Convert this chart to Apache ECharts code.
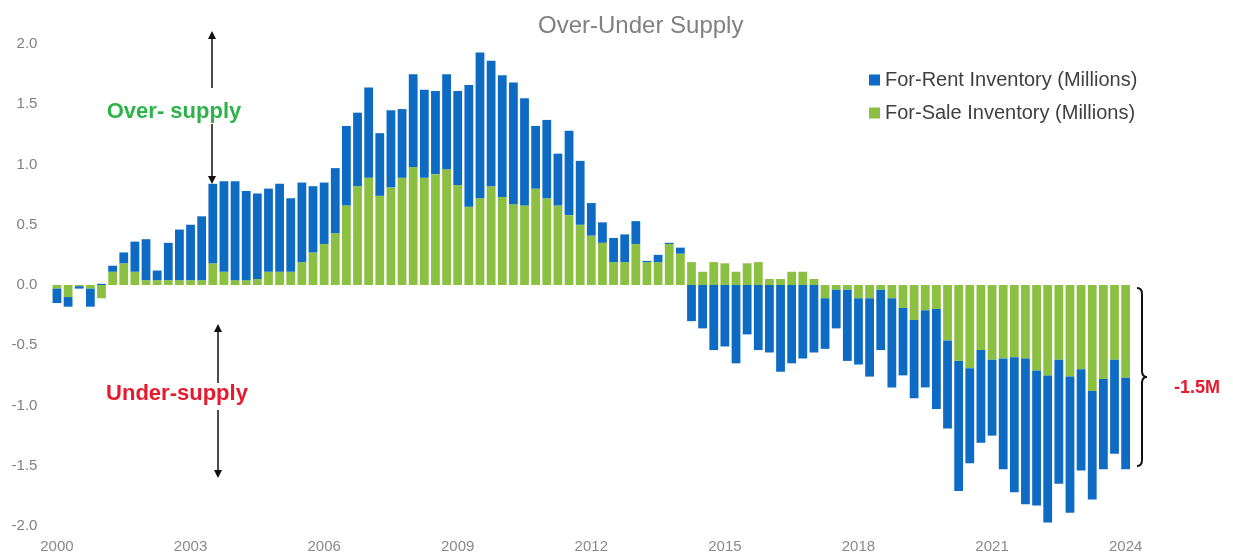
<!DOCTYPE html>
<html>
<head>
<meta charset="utf-8">
<title>Over-Under Supply</title>
<script src="https://cdn.jsdelivr.net/npm/echarts@6/dist/echarts.min.js"></script>
<style>
  html, body { margin: 0; padding: 0; background: #fff; }
  #chart { width: 1233px; height: 556px; }
</style>
</head>
<body>
<div id="chart"></div>
<script>
// quarterly categories 2000Q1 .. 2024Q1
const quarters = [];
for (let y = 2000; y <= 2024; y++) {
  for (let q = 1; q <= 4; q++) {
    if (y === 2024 && q > 1) break;
    quarters.push(y + " Q" + q);
  }
}

// For-Sale inventory (millions)
const forSale = [
  -0.03, -0.10, -0.01, -0.03, -0.11, 0.11, 0.18, 0.11, 0.04, 0.04, 0.04, 0.04,
  0.04, 0.04, 0.18, 0.11, 0.04, 0.04, 0.05, 0.11, 0.11, 0.11, 0.19, 0.27,
  0.34, 0.43, 0.66, 0.82, 0.89, 0.74, 0.81, 0.89, 0.98, 0.89, 0.92, 0.96,
  0.83, 0.65, 0.72, 0.82, 0.73, 0.67, 0.66, 0.80, 0.72, 0.66, 0.58, 0.50,
  0.41, 0.35, 0.19, 0.19, 0.34, 0.19, 0.19, 0.34, 0.26, 0.19, 0.11, 0.19,
  0.18, 0.11, 0.18, 0.19, 0.05, 0.05, 0.11, 0.11, 0.05, -0.11, -0.04, -0.04,
  -0.11, -0.11, -0.04, -0.11, -0.19, -0.29, -0.21, -0.20, -0.46, -0.63, -0.69, -0.54,
  -0.62, -0.61, -0.60, -0.61, -0.71, -0.75, -0.62, -0.76, -0.70, -0.88, -0.78, -0.62,
  -0.77
];

// For-Rent inventory (millions)
const forRent = [
  -0.12, -0.08, -0.02, -0.15, 0.01, 0.05, 0.09, 0.25, 0.34, 0.08, 0.31, 0.42,
  0.46, 0.53, 0.66, 0.75, 0.82, 0.74, 0.71, 0.69, 0.73, 0.61, 0.66, 0.55,
  0.51, 0.54, 0.66, 0.61, 0.75, 0.52, 0.64, 0.57, 0.77, 0.73, 0.69, 0.79,
  0.78, 1.01, 1.21, 1.04, 1.01, 1.01, 0.89, 0.52, 0.65, 0.43, 0.70, 0.53,
  0.27, 0.17, 0.20, 0.23, 0.19, 0.01, 0.06, 0.01, 0.05, -0.30, -0.36, -0.54,
  -0.51, -0.65, -0.41, -0.54, -0.56, -0.72, -0.65, -0.61, -0.56, -0.42, -0.32, -0.59,
  -0.55, -0.65, -0.50, -0.74, -0.56, -0.65, -0.64, -0.83, -0.73, -1.08, -0.79, -0.77,
  -0.63, -0.92, -1.12, -1.21, -1.12, -1.22, -1.03, -1.13, -0.84, -0.90, -0.75, -0.78,
  -0.76
];

const font = "Liberation Sans, Arial, sans-serif";
const blue = "#0E6BC4";
const green = "#8CC042";

let chart = echarts.init(document.getElementById("chart"));

// arrow helper for the annotations
function arrow(x, y1, y2) {
  const dir = y2 > y1 ? 1 : -1;
  return [
    { type: "line", shape: { x1: x, y1: y1, x2: x, y2: y2 - dir * 6 },
      style: { stroke: "#111", lineWidth: 1.5 } },
    { type: "polygon", shape: { points: [[x - 4, y2 - dir * 8], [x + 4, y2 - dir * 8], [x, y2]] },
      style: { fill: "#111" } }
  ];
}

// curly brace on the right (-1.5M)
const braceStyle = { stroke: "#111", lineWidth: 2, fill: null };
const brace = [
  { type: "bezierCurve", shape: { x1: 1137, y1: 288, x2: 1142, y2: 294, cpx1: 1142, cpy1: 288 }, style: braceStyle },
  { type: "line", shape: { x1: 1142, y1: 294, x2: 1142, y2: 371 }, style: braceStyle },
  { type: "bezierCurve", shape: { x1: 1142, y1: 371, x2: 1147, y2: 377, cpx1: 1142, cpy1: 377 }, style: braceStyle },
  { type: "bezierCurve", shape: { x1: 1147, y1: 377, x2: 1142, y2: 383, cpx1: 1142, cpy1: 377 }, style: braceStyle },
  { type: "line", shape: { x1: 1142, y1: 383, x2: 1142, y2: 460 }, style: braceStyle },
  { type: "bezierCurve", shape: { x1: 1142, y1: 460, x2: 1137, y2: 466, cpx1: 1142, cpy1: 466 }, style: braceStyle }
];

let option = {
  animation: false,
  title: {
    text: "Over-Under Supply",
    left: 533,
    top: 9,
    textStyle: { color: "#808080", fontSize: 24, fontWeight: "normal", fontFamily: font }
  },
  legend: {
    data: ["For-Rent Inventory (Millions)", "For-Sale Inventory (Millions)"],
    orient: "vertical",
    left: 864,
    top: 65,
    itemWidth: 11,
    itemHeight: 11,
    itemGap: 13,
    icon: "rect",
    textStyle: { color: "#404040", fontSize: 20, fontFamily: font }
  },
  grid: {
    left: 51.4,
    right: 101.8,
    top: 44,
    bottom: 30,
    containLabel: false
  },
  xAxis: {
    type: "category",
    data: quarters,
    axisLine: { show: false },
    axisTick: { show: false },
    splitLine: { show: false },
    axisLabel: {
      interval: 11,
      margin: 13,
      color: "#8a8a8a",
      fontSize: 15,
      fontFamily: font,
      formatter: function (v) { return v.slice(0, 4); }
    }
  },
  yAxis: {
    type: "value",
    min: -2,
    max: 2,
    interval: 0.5,
    axisLine: { show: false },
    axisTick: { show: false },
    splitLine: { show: false },
    axisLabel: {
      margin: 14,
      color: "#808080",
      fontSize: 15,
      fontFamily: font,
      formatter: function (v) { return v.toFixed(1); }
    }
  },
  series: [
    {
      name: "For-Sale Inventory (Millions)",
      type: "bar",
      stack: "supply",
      barCategoryGap: "21%",
      itemStyle: { color: green },
      data: forSale
    },
    {
      name: "For-Rent Inventory (Millions)",
      type: "bar",
      stack: "supply",
      barCategoryGap: "21%",
      itemStyle: { color: blue },
      data: forRent
    }
  ],
  graphic: [
    { type: "text", x: 174, y: 112,
      style: { text: "Over- supply", fill: "#2DB34A", font: "bold 22px " + font, align: "center", verticalAlign: "middle" } },
    { type: "text", x: 177, y: 394,
      style: { text: "Under-supply", fill: "#E8192C", font: "bold 22px " + font, align: "center", verticalAlign: "middle" } },
    { type: "text", x: 1197, y: 388,
      style: { text: "-1.5M", fill: "#E8192C", font: "bold 18px " + font, align: "center", verticalAlign: "middle" } },
    ...arrow(212, 88, 31),
    ...arrow(212, 124, 184),
    ...arrow(218, 383, 324),
    ...arrow(218, 410, 478),
    ...brace
  ]
};

chart.setOption(option);
</script>
</body>
</html>
